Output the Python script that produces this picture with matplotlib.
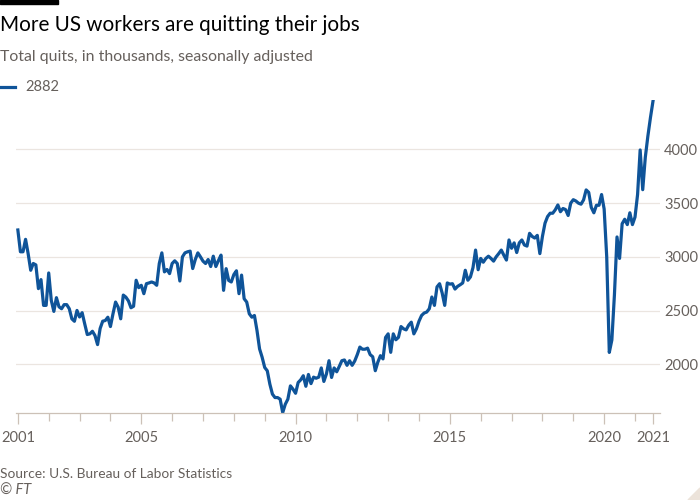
import numpy as np
import matplotlib.pyplot as plt
from matplotlib.patches import Rectangle, Polygon

# monthly quits, thousands, Jan 2001 onwards
quits_2001 = [3250, 3047, 3047, 3163, 3030, 2875, 2938, 2925, 2704, 2788, 2548, 2548]
quits_2002 = [2850, 2595, 2492, 2620, 2535, 2517, 2555, 2555, 2517, 2423, 2400, 2501]
quits_2003 = [2440, 2480, 2376, 2277, 2283, 2307, 2267, 2183, 2333, 2401, 2407, 2438]
quits_2004 = [2351, 2470, 2579, 2532, 2423, 2644, 2625, 2590, 2526, 2540, 2782, 2713]
quits_2005 = [2735, 2657, 2750, 2757, 2766, 2757, 2735, 2938, 3037, 2860, 2882, 2844]
quits_2006 = [2938, 2963, 2938, 2775, 3000, 3037, 3047, 3053, 2891, 2975, 3037, 3000]
quits_2007 = [2960, 2938, 2975, 2910, 3006, 2910, 2965, 3016, 2688, 2890, 2780, 2766]
quits_2008 = [2835, 2870, 2657, 2830, 2610, 2579, 2470, 2438, 2454, 2314, 2143, 2065]
quits_2009 = [1970, 1939, 1815, 1722, 1690, 1690, 1675, 1550, 1628, 1675, 1799, 1768]
quits_2010 = [1730, 1830, 1855, 1893, 1795, 1905, 1820, 1880, 1870, 1880, 1966, 1840]
quits_2011 = [1910, 2033, 1877, 1966, 1930, 1980, 2033, 2040, 1990, 2033, 1990, 2030]
quits_2012 = [2090, 2160, 2140, 2140, 2150, 2090, 2070, 1940, 2020, 2080, 2050, 2250]
quits_2013 = [2283, 2111, 2283, 2228, 2250, 2351, 2330, 2320, 2364, 2392, 2283, 2330]
quits_2014 = [2401, 2454, 2477, 2486, 2517, 2626, 2548, 2720, 2750, 2664, 2548, 2757]
quits_2015 = [2746, 2750, 2700, 2725, 2740, 2757, 2875, 2782, 2813, 2900, 3063, 2880]
quits_2016 = [2985, 2950, 2985, 3006, 2985, 2960, 3000, 3030, 3063, 3015, 2970, 3157]
quits_2017 = [3080, 3130, 3040, 3130, 3157, 3110, 3100, 3219, 3190, 3175, 3200, 3030]
quits_2018 = [3190, 3313, 3375, 3406, 3406, 3438, 3483, 3420, 3450, 3440, 3385, 3500]
quits_2019 = [3532, 3520, 3500, 3490, 3530, 3623, 3600, 3460, 3410, 3480, 3480, 3580]
quits_2020 = [3445, 3000, 2110, 2226, 2648, 3185, 2985, 3308, 3350, 3300, 3410, 3300]
quits_2021 = [3370, 3580, 3995, 3625, 3925, 4123, 4295, 4450]

quits = (quits_2001 + quits_2002 + quits_2003 + quits_2004 + quits_2005 + quits_2006
         + quits_2007 + quits_2008 + quits_2009 + quits_2010 + quits_2011 + quits_2012
         + quits_2013 + quits_2014 + quits_2015 + quits_2016 + quits_2017 + quits_2018
         + quits_2019 + quits_2020 + quits_2021)
months = 2001 + np.arange(len(quits)) / 12.0

y_ticks = [2000, 2500, 3000, 3500, 4000]
x_labels = ['2001', '2005', '2010', '2015', '2020', '2021']

grey = '#66605c'
blue = '#0f5499'
plt.rcParams['font.family'] = ['Lato', 'DejaVu Sans']

fig = plt.figure(figsize=(7, 5), dpi=100)
fig.patch.set_facecolor('white')
W, H = 700.0, 500.0
ax = fig.add_axes([16 / W, 1 - 412.6 / H, 644 / W, (412.6 - 100) / H])
ax.set_facecolor('white')

ax.plot(months, quits, color=blue, linewidth=2.3, solid_joinstyle='round')

ax.set_xlim(2000.94, 2021.81)
ax.set_ylim(1550, 4460)

ax.set_yticks(y_ticks)
ax.set_yticklabels([str(v) for v in y_ticks])
ax.yaxis.tick_right()
ax.tick_params(axis='y', length=0, pad=3, labelsize=10.5, labelcolor=grey)
ax.grid(axis='y', color='#ebe5e0', linewidth=0.9)

x_pos = [2001, 2005, 2010, 2015, 2020, months[-1]]
ax.set_xticks(x_pos)
ax.set_xticklabels(x_labels)
ax.set_xticks(np.arange(2001, 2022), minor=True)
ax.tick_params(axis='x', which='major', length=8, width=0.9, color='#ccc1b7',
               pad=5, labelsize=10.5, labelcolor=grey)
ax.tick_params(axis='x', which='minor', length=5.5, width=0.9, color='#ccc1b7')

for s in ['top', 'right', 'left']:
    ax.spines[s].set_visible(False)
ax.spines['bottom'].set_color('#ccc1b7')
ax.spines['bottom'].set_linewidth(0.9)

# header
fig.patches.append(Rectangle((0, 1 - 4 / H), 58 / W, 4 / H, transform=fig.transFigure,
                             color='black', zorder=5))
fig.text(0, 1 - 25 / H, 'More US workers are quitting their jobs', fontsize=14.9,
         color='#000000', va='center', ha='left')
fig.text(0, 1 - 57 / H, 'Total quits, in thousands, seasonally adjusted', fontsize=11.4,
         color=grey, va='center', ha='left')
fig.lines.append(plt.Line2D([0, 15 / W], [1 - 87 / H, 1 - 87 / H], transform=fig.transFigure,
                            color=blue, linewidth=2.3))
fig.text(25 / W, 1 - 87 / H, '2882', fontsize=10.5, color=grey, va='center', ha='left')

# footer
fig.text(0, 1 - 474 / H, 'Source: U.S. Bureau of Labor Statistics', fontsize=9.9,
         color=grey, va='center', ha='left')
fig.text(0, 1 - 491 / H, '\u00a9 FT', fontsize=10.5, color=grey, va='center', ha='left',
         style='italic')
fig.patches.append(Polygon([[1, 0], [1, 12 / H], [1 - 12 / W, 0]], closed=True,
                           transform=fig.transFigure, color='#ece3da'))

fig.savefig('out.png', dpi=100)
